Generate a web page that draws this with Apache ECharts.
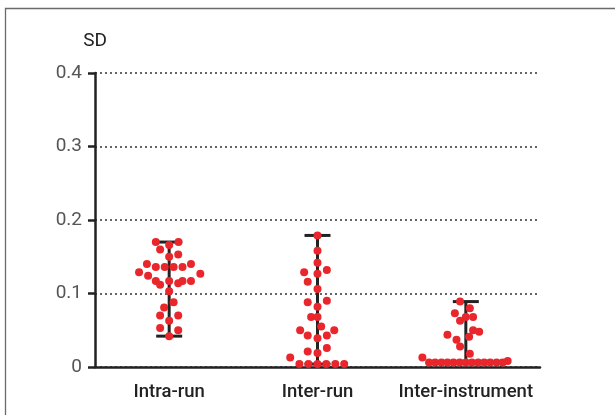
<!DOCTYPE html>
<html>
<head>
<meta charset="utf-8">
<script src="https://cdn.jsdelivr.net/npm/echarts@6/dist/echarts.min.js"></script>
<style>
  html, body { margin: 0; padding: 0; background: #fff; }
  #chart { width: 615px; height: 415px; }
</style>
</head>
<body>
<div id="chart"></div>
<script>
const categories = ['Intra-run', 'Inter-run', 'Inter-instrument']

// [horizontal spread within the column (category units), SD]
const intraRun = [
  [-0.09, 0.170], [0.063, 0.170], [0, 0.166], [-0.061, 0.160], [0, 0.150], [0.061, 0.153],
  [-0.15, 0.140], [-0.09, 0.136], [-0.03, 0.136], [0.03, 0.136], [0.09, 0.136], [0.147, 0.140],
  [-0.203, 0.129], [-0.142, 0.124], [0.21, 0.127], [-0.09, 0.117], [-0.061, 0.112], [0, 0.117],
  [0.061, 0.114], [0.09, 0.117], [0.147, 0.117], [0, 0.103], [0.03, 0.088], [-0.034, 0.081],
  [-0.061, 0.070], [0.061, 0.070], [0, 0.063], [-0.061, 0.053], [0.061, 0.050], [0, 0.042],
]

const interRun = [
  [0, 0.179], [0, 0.158], [0, 0.142], [-0.09, 0.129], [0, 0.127], [0.063, 0.132],
  [-0.066, 0.116], [0, 0.106], [-0.066, 0.088], [0.063, 0.090], [0, 0.082], [-0.043, 0.068],
  [0, 0.068], [0.025, 0.055], [-0.117, 0.050], [0.113, 0.050], [-0.066, 0.043], [0, 0.039],
  [0.063, 0.043], [-0.066, 0.021], [0.063, 0.026], [0, 0.019], [-0.184, 0.013],
  [-0.122, 0.004], [-0.061, 0.004], [0, 0.004], [0.059, 0.004], [0.12, 0.004], [0.18, 0.004],
]

const interInstrument = [
  [-0.039, 0.089], [0.027, 0.080], [-0.074, 0.073], [0, 0.068], [0.049, 0.068], [-0.039, 0.063],
  [0.049, 0.050], [0.09, 0.048], [-0.124, 0.044], [0.022, 0.041], [-0.063, 0.037], [-0.039, 0.028],
  [0.027, 0.018], [-0.293, 0.013],
  [-0.248, 0.006], [-0.207, 0.006], [-0.164, 0.006], [-0.124, 0.006], [-0.083, 0.006], [-0.041, 0.006],
  [0, 0.006], [0.041, 0.006], [0.083, 0.006], [0.124, 0.006], [0.164, 0.006], [0.207, 0.006],
  [0.248, 0.006], [0.282, 0.008],
]

const yTicks = [0, 0.1, 0.2, 0.3, 0.4]

const groups = [intraRun, interRun, interInstrument]

// range bars (min..max) per column
const ranges = groups.map((g, i) => {
  const vals = g.map(p => p[1])
  return [i, Math.min(...vals), Math.max(...vals)]
})

const points = []
groups.forEach((g, i) => {
  g.forEach(p => points.push([i + p[0], p[1]]))
})

const chart = echarts.init(document.getElementById('chart'))

chart.setOption({
  animation: false,
  textStyle: { fontFamily: 'Roboto' },
  graphic: [{
    type: 'rect',
    shape: { x: 5.5, y: 8.5, width: 700, height: 500 },
    style: { fill: 'none', stroke: '#6a6a6a', lineWidth: 1.3 },
    silent: true,
  }],
  grid: { left: 95, right: 75, top: 73, bottom: 48 },
  xAxis: [{
    type: 'category',
    data: categories,
    boundaryGap: true,
    axisLine: { onZero: false, lineStyle: { color: '#222', width: 2.5 } },
    axisTick: { show: false },
    axisLabel: { color: '#222', fontSize: 18.5, fontWeight: 500, margin: 16, interval: 0 },
  }, {
    type: 'value',
    min: -0.5,
    max: 2.5,
    show: false,
  }],
  yAxis: {
    type: 'value',
    min: yTicks[0],
    max: yTicks[yTicks.length - 1],
    interval: 0.1,
    name: 'SD',
    nameLocation: 'end',
    nameGap: 22,
    nameTextStyle: { color: '#222', fontSize: 19, align: 'center' },
    axisLine: { show: true, onZero: false, lineStyle: { color: '#222', width: 2.5 } },
    axisTick: { show: true, length: 7, lineStyle: { color: '#222', width: 2.5 } },
    axisLabel: {
      color: '#555',
      fontSize: 19,
      margin: 13,
      formatter: v => (v === 0 ? '0' : v.toFixed(1)),
    },
    splitLine: {
      show: true,
      lineStyle: { color: '#333', width: 1.5, type: [2, 3] },
    },
  },
  series: [{
    type: 'custom',
    xAxisIndex: 0,
    data: ranges,
    z: 2,
    renderItem: (params, api) => {
      const top = api.coord([api.value(0), api.value(2)])
      const bot = api.coord([api.value(0), api.value(1)])
      const capW = 13
      const style = { stroke: '#222', lineWidth: 3 }
      return {
        type: 'group',
        children: [
          { type: 'line', shape: { x1: top[0], y1: top[1], x2: bot[0], y2: bot[1] }, style },
          { type: 'line', shape: { x1: top[0] - capW, y1: top[1], x2: top[0] + capW, y2: top[1] }, style },
          { type: 'line', shape: { x1: bot[0] - capW, y1: bot[1], x2: bot[0] + capW, y2: bot[1] }, style },
        ],
      }
    },
  }, {
    type: 'scatter',
    xAxisIndex: 1,
    data: points,
    symbolSize: 8,
    z: 3,
    itemStyle: { color: '#e8262b', opacity: 1 },
  }],
})
</script>
</body>
</html>
